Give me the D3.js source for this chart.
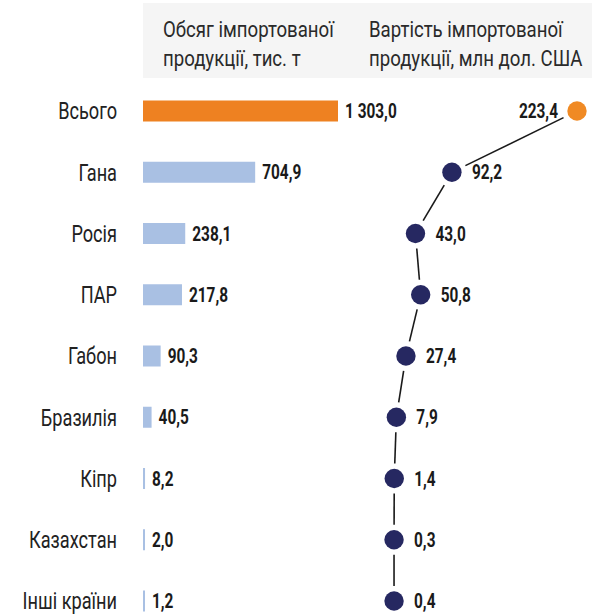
<!DOCTYPE html>
<html>
<head>
<meta charset="utf-8">
<script src="https://cdn.jsdelivr.net/npm/d3@7.9.0/dist/d3.min.js"></script>
<style>
  body { margin: 0; background: #fff; }
  svg { display: block; font-family: Roboto, "Liberation Sans", sans-serif; }
</style>
</head>
<body>
<svg id="chart" width="592" height="614"></svg>
<script>
// Data
const countries = ['Всього', 'Гана', 'Росія', 'ПАР', 'Габон', 'Бразилія', 'Кіпр', 'Казахстан', 'Інші країни'];
const volume = [1303.0, 704.9, 238.1, 217.8, 90.3, 40.5, 8.2, 2.0, 1.2];
const value = [223.4, 92.2, 43.0, 50.8, 27.4, 7.9, 1.4, 0.3, 0.4];
const headers = [
  ['Обсяг імпортованої', 'продукції, тис. т'],
  ['Вартість імпортованої', 'продукції, млн дол. США']
];

const fmt = (v) => {
  const s = d3.format(',.1f')(v);
  return s.replace(/,/g, ' ').replace('.', ',');
};

// squeeze text horizontally to mimic a condensed face
function condense(sel, f) {
  sel.each(function () {
    const t = d3.select(this);
    t.attr('x', +t.attr('x') / f).attr('transform', `scale(${f},1)`);
  });
}

const svg = d3.select('#chart');

// header box
svg.append('rect')
  .attr('x', 143).attr('y', 3)
  .attr('width', 449).attr('height', 75)
  .attr('fill', '#f5f5f5');

const headerX = [163, 369];
headers.forEach((lines, i) => {
  lines.forEach((l, j) => {
    svg.append('text')
      .attr('class', 'head')
      .attr('x', headerX[i])
      .attr('y', 37 + j * 29)
      .attr('fill', '#2a2a2a')
      .style('font-size', '23px')
      .text(l);
  });
});
condense(svg.selectAll('.head'), 0.81);

// scales
const y = d3.scalePoint().domain(countries).range([111, 601]);
const xBar = d3.scalePow().exponent(0.9).domain([0, 1303]).range([143, 338]);
const xDot = d3.scalePow().exponent(1.3).domain([0, 223.4]).range([394, 577]);

const barH = 21;

// category labels
svg.selectAll('.cat')
  .data(countries)
  .join('text')
  .attr('class', 'cat')
  .attr('x', 117)
  .attr('y', (d) => y(d))
  .attr('dy', '0.36em')
  .attr('text-anchor', 'end')
  .attr('fill', '#222')
  .style('font-size', '23px')
  .text((d) => d)
  .call(condense, 0.79);

// bars
svg.selectAll('.bar')
  .data(volume)
  .join('rect')
  .attr('class', 'bar')
  .attr('x', xBar(0))
  .attr('y', (d, i) => y(countries[i]) - barH / 2)
  .attr('width', (d) => Math.max(xBar(d) - xBar(0), 2))
  .attr('height', barH)
  .attr('fill', (d, i) => (i === 0 ? '#ee8121' : '#a9c0e3'));

svg.selectAll('.barval')
  .data(volume)
  .join('text')
  .attr('class', 'barval')
  .attr('x', (d) => Math.max(xBar(d), xBar(0) + 2) + 7)
  .attr('y', (d, i) => y(countries[i]))
  .attr('dy', '0.36em')
  .attr('fill', '#1a1a1a')
  .style('font-size', '20px')
  .style('font-weight', 'bold')
  .text((d) => fmt(d))
  .call(condense, 0.77);

// connecting lines with gaps
const pts = value.map((v, i) => [xDot(v), y(countries[i])]);
const gap = 15;
for (let i = 0; i < pts.length - 1; i++) {
  const [x1, y1] = pts[i];
  const [x2, y2] = pts[i + 1];
  const len = Math.hypot(x2 - x1, y2 - y1);
  const ux = (x2 - x1) / len, uy = (y2 - y1) / len;
  svg.append('line')
    .attr('x1', x1 + ux * gap).attr('y1', y1 + uy * gap)
    .attr('x2', x2 - ux * gap).attr('y2', y2 - uy * gap)
    .attr('stroke', '#1a1a1a')
    .attr('stroke-width', 1.6);
}

// dots
svg.selectAll('.dot')
  .data(value)
  .join('circle')
  .attr('class', 'dot')
  .attr('cx', (d) => xDot(d))
  .attr('cy', (d, i) => y(countries[i]))
  .attr('r', 9.7)
  .attr('fill', (d, i) => (i === 0 ? '#f08a24' : '#262861'));

svg.selectAll('.dotval')
  .data(value)
  .join('text')
  .attr('class', 'dotval')
  .attr('x', (d, i) => (i === 0 ? xDot(d) - 19 : xDot(d) + 20))
  .attr('y', (d, i) => y(countries[i]))
  .attr('dy', '0.36em')
  .attr('text-anchor', (d, i) => (i === 0 ? 'end' : 'start'))
  .attr('fill', '#1a1a1a')
  .style('font-size', '20px')
  .style('font-weight', 'bold')
  .text((d) => fmt(d))
  .call(condense, 0.77);
</script>
</body>
</html>
